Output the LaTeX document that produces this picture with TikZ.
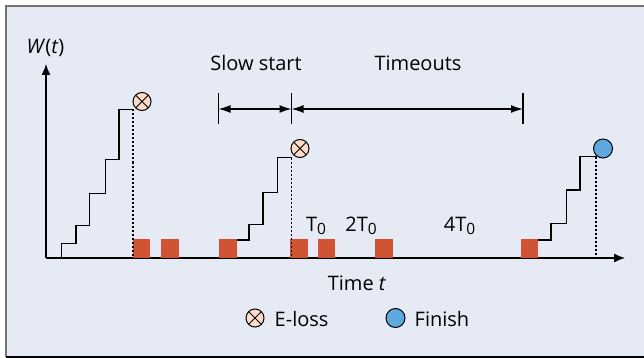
\documentclass[tikz,border=0pt]{standalone}
\usepackage{fontspec}
\setmainfont{Open Sans}
\usetikzlibrary{arrows.meta}
\definecolor{bgc}{HTML}{E6EAF5}
\definecolor{sqc}{HTML}{D05434}
\definecolor{elossc}{HTML}{FCDCC8}
\definecolor{finc}{HTML}{5DA9DF}
\newcommand{\subz}{\raisebox{-0.3ex}{\fontsize{15.5}{15.5}\selectfont 0}}
\begin{document}
\begin{tikzpicture}[x=1pt,y=-1pt,
  axisline/.style={line width=1.3pt, -{Latex[length=11pt,width=9pt]}},
  stair/.style={line width=1.3pt, line join=miter},
  dropline/.style={line width=1.2pt, dash pattern=on 2pt off 2pt},
  sqbox/.style={fill=sqc, draw=none, minimum width=17.5pt, minimum height=19pt, inner sep=0pt, anchor=south west},
  lossmark/.style={circle, draw, line width=1pt, fill=elossc, minimum size=18pt, inner sep=0pt,
    path picture={\draw[line width=1pt] (path picture bounding box.north west) -- (path picture bounding box.south east)
      (path picture bounding box.north east) -- (path picture bounding box.south west);}},
  finmark/.style={circle, draw, line width=1pt, fill=finc, minimum size=19pt, inner sep=0pt},
  bar/.style={line width=1.3pt},
  dimarrow/.style={line width=1.3pt, {Latex[length=12pt,width=8pt]}-{Latex[length=12pt,width=8pt]}},
  lbl/.style={font=\fontsize{20}{24}\selectfont, inner sep=0pt, anchor=base},
]
\useasboundingbox (0,0) rectangle (644,358);
\fill[bgc] (6,6) rectangle (644,357);
\draw[gray!90!black, line width=2pt] (6,357) -- (6,6) -- (644,6);
\draw[black, line width=1.5pt] (6,357) -- (644,357);

% axes
\coordinate (O) at (46,258);
\coordinate (ytip) at (46,64);
\coordinate (xtip) at (625,258);
\draw[axisline] (O) -- (ytip);
\draw[axisline] (O) -- (xtip);
\node[lbl] (wlab) at (45.5,53.5) {\textit{W}(\textit{t})};
\node[lbl] (tlab) at (357,290) {Time \textit{t}};

% red squares
\node[sqbox] (s1) at (132.5,258) {};
\node[sqbox] (s2) at (161,258) {};
\node[sqbox] (s3) at (219,258) {};
\node[sqbox] (s4) at (290,258) {};
\node[sqbox] (s5) at (317.5,258) {};
\node[sqbox] (s6) at (375,258) {};
\node[sqbox] (s7) at (520.5,258) {};

% first staircase
\draw[stair] (61.5,258) -- (61.5,243.5) -- (76,243.5) -- (76,225.5) -- (89.5,225.5) -- (89.5,193.5)
  -- (105.5,193.5) -- (105.5,159.5) -- (119,159.5) -- (119,109.5) -- (133,109.5) coordinate (p1);
\coordinate (b1) at (133,258);
\draw[dropline] (p1) -- (b1);
\node[lossmark] (l1) at (142,101.5) {};

% second staircase
\draw[stair] (236.5,240) -- (249,240) -- (249,224.5) -- (263,224.5) -- (263,192.5)
  -- (277.5,192.5) -- (277.5,157.5) -- (291.5,157.5) coordinate (p2);
\coordinate (b2) at (291.5,258);
\draw[dropline] (p2) -- (b2);
\node[lossmark] (l2) at (300,148.5) {};

% third staircase
\draw[stair] (538,240) -- (551,240) -- (551,223.5) -- (566.5,223.5) -- (566.5,190)
  -- (580,190) -- (580,156.5) -- (596,156.5) coordinate (p3);
\coordinate (b3) at (596,258);
\draw[dropline] (p3) -- (b3);
\node[finmark] (f1) at (603,148.5) {};

% dimension bars
\coordinate (d1t) at (218.5,93.5); \coordinate (d1b) at (218.5,124.5);
\coordinate (d2t) at (291.5,93.5); \coordinate (d2b) at (291.5,124.5);
\coordinate (d3t) at (523,93.5);   \coordinate (d3b) at (523,124.5);
\draw[bar] (d1t) -- (d1b);
\draw[bar] (d2t) -- (d2b);
\draw[bar] (d3t) -- (d3b);
\coordinate (a1) at (218.5,109);
\coordinate (a2) at (291.5,109);
\coordinate (a3) at (523,109);
\draw[dimarrow] (a1) -- (a2);
\draw[dimarrow] (a2) -- (a3);
\node[lbl] (slow) at (256,71) {Slow start};
\node[lbl] (tout) at (418,71) {Timeouts};

% timeout labels
\node[lbl] (t0) at (316,231) {T\subz};
\node[lbl] (t1) at (361,231) {2T\subz};
\node[lbl] (t2) at (459.5,231) {4T\subz};

% legend
\node[lossmark] (lg1) at (255,318) {};
\node[lbl, anchor=base west] (lg1t) at (274.5,326) {E-loss};
\node[finmark] (lg2) at (395.5,318) {};
\node[lbl, anchor=base west] (lg2t) at (414.5,326) {Finish};
\end{tikzpicture}
\end{document}
